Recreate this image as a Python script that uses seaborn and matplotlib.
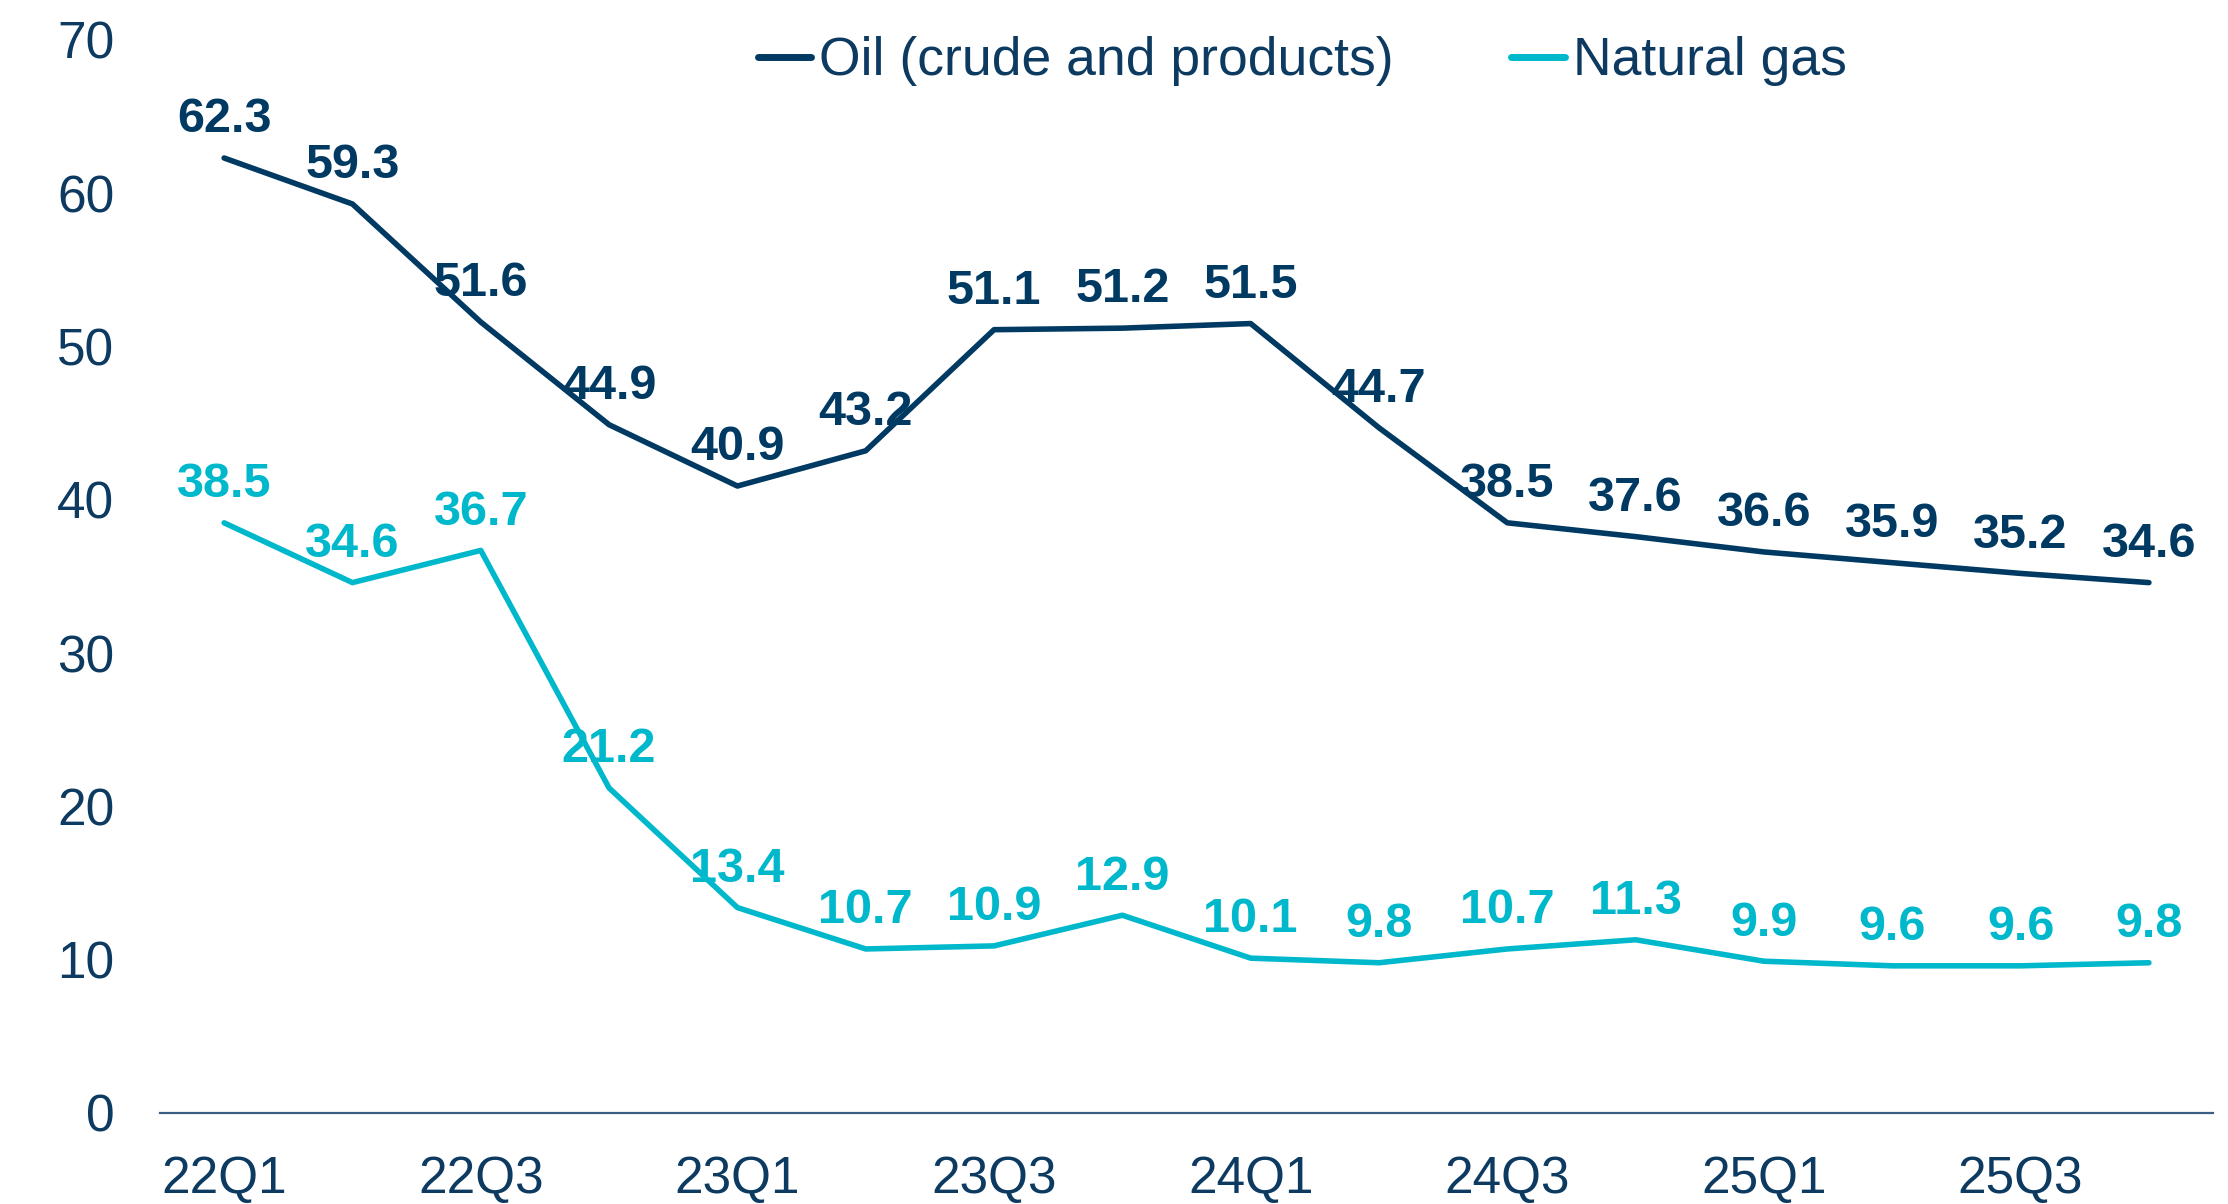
import matplotlib
matplotlib.use("Agg")
import matplotlib.pyplot as plt
import seaborn as sns
import pandas as pd

quarters = ["22Q1", "22Q2", "22Q3", "22Q4", "23Q1", "23Q2", "23Q3", "23Q4",
            "24Q1", "24Q2", "24Q3", "24Q4", "25Q1", "25Q2", "25Q3", "25Q4"]
oil = [62.3, 59.3, 51.6, 44.9, 40.9, 43.2, 51.1, 51.2,
       51.5, 44.7, 38.5, 37.6, 36.6, 35.9, 35.2, 34.6]
gas = [38.5, 34.6, 36.7, 21.2, 13.4, 10.7, 10.9, 12.9,
       10.1, 9.8, 10.7, 11.3, 9.9, 9.6, 9.6, 9.8]
series_names = ["Oil (crude and products)", "Natural gas"]
y_ticks = [0, 10, 20, 30, 40, 50, 60, 70]

OIL_C = "#003A63"
GAS_C = "#00B8CC"
TEXT_C = "#0D3A60"

sns.set_theme(style="white")
plt.rcParams["font.family"] = ["Liberation Sans", "DejaVu Sans"]

df = pd.DataFrame({
    "quarter": quarters * 2,
    "value": oil + gas,
    "series": [series_names[0]] * len(quarters) + [series_names[1]] * len(quarters),
})

fig = plt.figure(figsize=(22.28, 12.04), dpi=100)
ax = fig.add_axes([0.0718, 0.0756, 0.9933 - 0.0718, 0.9668 - 0.0756])

sns.lineplot(data=df, x="quarter", y="value", hue="series",
             palette={series_names[0]: OIL_C, series_names[1]: GAS_C},
             linewidth=4.0, sort=False, ax=ax, legend=True)

# data labels
for vals, col in [(oil, OIL_C), (gas, GAS_C)]:
    for i, v in enumerate(vals):
        ax.annotate(f"{v:.1f}", xy=(i, v), xytext=(0, 27.5), textcoords="offset points",
                    ha="center", va="center", fontsize=35, fontweight="bold", color=col)

ax.set_xlim(-0.5, len(quarters) - 0.5)
ax.set_ylim(0, 70)
ax.set_yticks(y_ticks)
ax.set_xticks(range(0, len(quarters), 2))
ax.set_xticklabels(quarters[::2])
ax.set_xlabel("")
ax.set_ylabel("")
ax.tick_params(axis="both", length=0, labelsize=37, labelcolor=TEXT_C)
ax.tick_params(axis="y", pad=33)
ax.tick_params(axis="x", pad=30)
for s in ["left", "right", "top"]:
    ax.spines[s].set_visible(False)
ax.spines["bottom"].set_color("#3A5F85")
ax.spines["bottom"].set_linewidth(1.6)
ax.grid(False)

handles, labels = ax.get_legend_handles_labels()
leg = ax.legend(handles, labels, loc="center", bbox_to_anchor=(0.5845, 0.949),
                bbox_transform=fig.transFigure, ncol=2, frameon=False,
                fontsize=38.5, handlelength=1.0, handletextpad=0.15,
                columnspacing=2.2, borderpad=0)
for t in leg.get_texts():
    t.set_color(TEXT_C)
for h in leg.get_lines():
    h.set_linewidth(5)

fig.savefig("out.png", dpi=100)
